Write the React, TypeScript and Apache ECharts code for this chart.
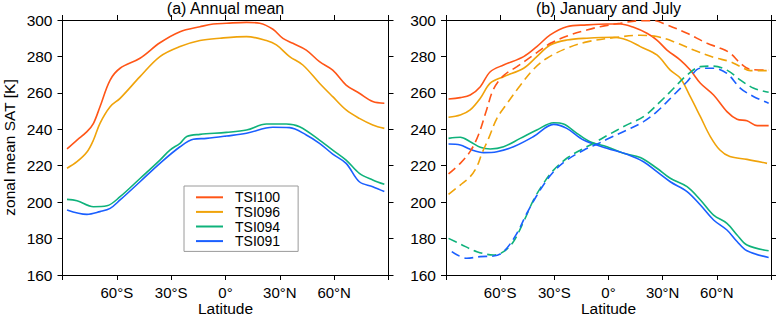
import React, { useEffect, useRef } from "react";
import * as echarts from "echarts";

// ---------- tick labels ----------
const LAT_MIN = -90;
const LAT_MAX = 90;
const LAT_STEP = 30;
const SAT_MIN = 160;
const SAT_MAX = 300;
const SAT_STEP = 20;

const SERIES_NAMES = ["TSI100", "TSI096", "TSI094", "TSI091"];
const COLORS = ["#ff5517", "#f0a30a", "#0fb27b", "#1a5fff"];

// ---------- (a) Annual mean ----------
const annLat100 = [-87.5, -82, -76.5, -72.9, -69.3, -63.7, -58.2, -47.2, -36.2, -25.1, -14.1, -6.8, 0.5, 11.6, 18.9, 26.2, 31.7, 37.2, 44.6, 51.9, 59.2, 66.6, 73.9, 81.3, 87.7];
const annVal100 = [229.2, 234.1, 238.7, 243.3, 252.4, 267, 273.5, 279, 287.5, 293.6, 296.3, 297.8, 298.2, 298.7, 298.2, 294.9, 289.9, 287.2, 283.5, 277.1, 272.5, 264.3, 259.8, 255.2, 254.3];

const annLat096 = [-87.5, -82, -76.5, -72.9, -69.3, -63.7, -58.2, -47.2, -36.2, -25.1, -14.1, -3.1, 11.6, 22.6, 28.1, 35.4, 42.7, 51.9, 59.2, 66.6, 73.9, 81.3, 87.7];
const annVal096 = [218.6, 222.2, 227.5, 234.1, 243.3, 252.4, 257, 268.9, 279.9, 285.4, 288.7, 290, 290.9, 288.7, 286.3, 279.9, 275.3, 265.3, 257.9, 250.6, 246, 242.4, 240.5];

const annLat094 = [-87.5, -82, -72.9, -65.5, -58.2, -47.2, -36.2, -30.7, -25.1, -21.4, -14.1, 0.5, 11.6, 22.6, 33.6, 40.9, 51.9, 59.2, 66.6, 73.9, 81.3, 87.7];
const annVal094 = [201.5, 200.8, 197.5, 198, 203, 213, 223.1, 228.6, 232.3, 236, 237.2, 238.3, 239.6, 242.9, 242.9, 241.4, 234.1, 228.6, 223.1, 215.8, 212.2, 209.8];

const annLat091 = [-87.5, -76.5, -69.3, -63.7, -58.2, -47.2, -36.2, -25.1, -17.8, -10.5, 0.5, 11.6, 26.2, 35.4, 44.6, 51.9, 59.2, 66.6, 73.9, 81.3, 87.7];
const annVal091 = [195.7, 193.3, 194.8, 196.6, 201.2, 211.2, 221.3, 230.4, 234.5, 235, 236.3, 237.8, 241.1, 240.9, 236.9, 232.3, 226.4, 221.3, 211.2, 208.5, 205.8];

// ---------- (b) January (solid) ----------
const janLat100 = [-88.6, -82.1, -76.6, -71, -65.5, -58.1, -47, -39.7, -32.3, -23.1, -12, -0.9, 6.5, 13.9, 21.3, 26.8, 32.4, 39.8, 45.3, 50.9, 58.2, 65.6, 71.2, 76.7, 82.3, 88.7];
const janVal100 = [256.6, 257.4, 258.8, 263.4, 271.6, 275.3, 279.9, 285.4, 291.8, 296.3, 297.3, 297.8, 297.8, 296, 292.7, 289, 283.5, 278, 272.5, 265.3, 258.8, 249.7, 245.5, 244.7, 242, 242];

const janLat096 = [-88.6, -82.1, -76.6, -71, -65.5, -58.1, -47, -39.7, -32.3, -23.1, -12, 2.8, 10.2, 17.6, 26.8, 34.2, 39.8, 45.3, 50.9, 56.4, 61.7, 67.2, 76.7, 87.8];
const janVal096 = [246.6, 247.8, 250.6, 257, 265.3, 268.9, 273.5, 279.9, 286.3, 289, 290, 290.5, 289, 285.4, 280.8, 272.5, 268, 257.9, 246.9, 236, 228.6, 225, 223.5, 221.3];

const janLat094 = [-88.6, -82.1, -76.6, -71, -65.5, -58.1, -48.9, -39.7, -30.4, -24.9, -17.5, -10.2, -0.9, 8.3, 17.6, 26.8, 34.2, 43.5, 50.9, 58.2, 65.6, 71.2, 76.7, 88.7];
const janVal094 = [235, 235.6, 233.2, 230.1, 229.2, 230.4, 235, 239.6, 243.6, 242.9, 237.8, 233.2, 230.4, 226.8, 224.5, 218.6, 213.1, 208.5, 201.2, 192.9, 188.4, 182, 176.5, 173.3];

const janLat091 = [-88.6, -82.1, -76.6, -69.2, -61.8, -52.6, -41.5, -30.4, -23.1, -13.8, -0.9, 10.2, 19.4, 26.8, 34.2, 43.5, 50.9, 58.2, 65.6, 71.2, 76.7, 88.7];
const janVal091 = [231.9, 231.4, 229, 227.2, 227.7, 230.4, 236, 242.7, 240.5, 234.1, 229.6, 226.3, 222.2, 216.7, 211.2, 205.8, 198.4, 190.2, 184.7, 178.4, 173.3, 169.6];

// ---------- (b) July (dashed) ----------
const julLat100 = [-88.6, -82.1, -76.5, -72, -67.4, -63.7, -58.1, -50.7, -41.5, -32.2, -22, -12, -4.7, 6.5, 17.6, 25, 32.4, 43.5, 54.6, 62, 67.5, 73.1, 78.6, 88.7];
const julVal100 = [215.5, 221.3, 228, 237, 251, 262, 269.5, 274.4, 280.8, 287.2, 291.5, 294.5, 296.3, 298.2, 299.6, 299.6, 297.3, 292.7, 287.2, 284.5, 281.7, 276.2, 272.9, 272.5];

const julLat096 = [-88.6, -82.1, -76.6, -72.9, -70.1, -66.4, -61.8, -56.3, -48.9, -41.5, -34.1, -23.1, -12, 2.8, 17.6, 26.8, 36.1, 47.2, 58.2, 67.5, 73.1, 78.6, 88.7];
const julVal096 = [204.3, 209.4, 214, 219.5, 226.8, 235, 246, 254, 264, 273, 279, 284.5, 288, 290.3, 291.6, 290.9, 288.1, 283.5, 279.5, 277.1, 274.4, 272.2, 272.2];

const julLat094 = [-88.6, -82.1, -72.9, -63.7, -58.1, -52.6, -47, -41.5, -36, -30.4, -23.1, -15.7, -8, -0.9, 10.2, 19.4, 28.7, 36.1, 43.5, 50.9, 58.2, 65.6, 73.1, 80.5, 88.7];
const julVal094 = [180.1, 177, 172.8, 171, 172.8, 178.4, 189.3, 201.2, 210.3, 217.6, 224.1, 228.5, 232.5, 236.5, 242.4, 246.9, 255.2, 262.5, 269.8, 274.4, 274.7, 272.5, 267, 262.5, 260.3];

const julLat091 = [-86.8, -78.5, -71, -63.7, -58.1, -50.7, -45.2, -37.8, -30.4, -23.1, -13.8, -5, -0.9, 10.2, 19.4, 26.8, 36.1, 43.5, 50.9, 58.2, 65.6, 73.1, 80.5, 88.7];
const julVal091 = [172.8, 169.2, 170.1, 170.4, 172.8, 182.9, 193.9, 206.7, 216.7, 223.1, 228.5, 232.5, 234.5, 239.6, 244.2, 249.7, 258.8, 266.1, 273.5, 273.5, 270.7, 262.5, 257.9, 254.3];

const FONT = "Liberation Sans, Arial, Helvetica, sans-serif";

function pairs(lats: number[], vals: number[]) {
  return lats.map((x, i) => [x, vals[i]]);
}

function latLabel(v: number) {
  if (Math.abs(v) >= 90) return "";
  if (v === 0) return "0°";
  return Math.abs(v) + "°" + (v < 0 ? "S" : "N");
}

function xAxis(gridIndex: number, position: string, showLabel: boolean) {
  return {
    type: "value",
    gridIndex,
    position,
    min: LAT_MIN,
    max: LAT_MAX,
    interval: LAT_STEP,
    axisLine: { show: true, onZero: false, lineStyle: { color: "#000", width: 1 } },
    axisTick: { show: true, inside: false, length: 5, lineStyle: { color: "#000", width: 1 } },
    axisLabel: {
      show: showLabel,
      formatter: latLabel,
      margin: 10,
      color: "#000",
      fontSize: 15,
      fontFamily: FONT,
    },
    splitLine: { show: false },
  };
}

function yAxis(gridIndex: number, position: string, showLabel: boolean) {
  return {
    type: "value",
    gridIndex,
    position,
    min: SAT_MIN,
    max: SAT_MAX,
    interval: SAT_STEP,
    axisLine: { show: true, onZero: false, lineStyle: { color: "#000", width: 1 } },
    axisTick: { show: true, inside: false, length: 5, lineStyle: { color: "#000", width: 1 } },
    axisLabel: {
      show: showLabel,
      margin: 10,
      color: "#000",
      fontSize: 15.5,
      fontFamily: FONT,
    },
    splitLine: { show: false },
  };
}

function line(name: string, color: string, data: number[][], axis: number, dashed: boolean) {
  return {
    type: "line",
    name,
    xAxisIndex: axis,
    yAxisIndex: axis,
    data,
    smooth: 0.35,
    showSymbol: false,
    symbol: "none",
    color,
    itemStyle: { color },
    lineStyle: { color, width: 1.6, type: dashed ? [9, 5] : "solid" },
    z: 3,
  };
}

export default function App() {
  const ref = useRef<HTMLDivElement>(null);

  useEffect(() => {
    if (!ref.current) return;
    const chart = echarts.init(ref.current, undefined, { renderer: "svg" });

    const annual = [
      pairs(annLat100, annVal100),
      pairs(annLat096, annVal096),
      pairs(annLat094, annVal094),
      pairs(annLat091, annVal091),
    ];
    const jan = [
      pairs(janLat100, janVal100),
      pairs(janLat096, janVal096),
      pairs(janLat094, janVal094),
      pairs(janLat091, janVal091),
    ];
    const jul = [
      pairs(julLat100, julVal100),
      pairs(julLat096, julVal096),
      pairs(julLat094, julVal094),
      pairs(julLat091, julVal091),
    ];

    const series: any[] = [];
    SERIES_NAMES.forEach((n, i) => series.push(line(n, COLORS[i], annual[i], 0, false)));
    SERIES_NAMES.forEach((n, i) => series.push(line(n + " January", COLORS[i], jan[i], 2, false)));
    SERIES_NAMES.forEach((n, i) => series.push(line(n + " July", COLORS[i], jul[i], 2, true)));

    const textStyle = (text: string, size: number) => ({
      text,
      fill: "#000",
      fontSize: size,
      fontFamily: FONT,
      align: "center",
      verticalAlign: "middle",
      textAlign: "center",
      textVerticalAlign: "middle",
    });

    chart.setOption({
      animation: false,
      backgroundColor: "#fff",
      grid: [
        { left: 62.5, top: 20, width: 326, height: 255, containLabel: false },
        { left: 446, top: 20, width: 325, height: 255, containLabel: false },
      ],
      xAxis: [
        xAxis(0, "bottom", true),
        xAxis(0, "top", false),
        xAxis(1, "bottom", true),
        xAxis(1, "top", false),
      ],
      yAxis: [
        yAxis(0, "left", true),
        yAxis(0, "right", false),
        yAxis(1, "left", true),
        yAxis(1, "right", false),
      ],
      legend: {
        data: SERIES_NAMES,
        orient: "vertical",
        left: 184,
        top: 186,
        padding: [4, 18, 3, 12],
        itemGap: 0,
        itemWidth: 27,
        itemHeight: 2,
        icon: "rect",
        borderColor: "#9a9a9a",
        borderWidth: 1,
        backgroundColor: "#fff",
        selectedMode: false,
        textStyle: {
          color: "#000",
          fontSize: 14,
          fontFamily: FONT,
          lineHeight: 14.6,
          padding: [0, 0, 0, 7],
        },
      },
      graphic: [
        { type: "text", x: 225.5, y: 8, style: textStyle("(a) Annual mean", 16) },
        { type: "text", x: 608.5, y: 8, style: textStyle("(b) January and July", 16) },
        { type: "text", x: 225.5, y: 308.5, style: textStyle("Latitude", 15.5) },
        { type: "text", x: 608.5, y: 308.5, style: textStyle("Latitude", 15.5) },
        {
          type: "text",
          x: 9,
          y: 147.5,
          rotation: Math.PI / 2,
          style: textStyle("zonal mean SAT [K]", 15.5),
        },
      ],
      series,
    });

    return () => chart.dispose();
  }, []);

  return (
    <div
      ref={ref}
      style={{ position: "fixed", left: 0, top: 0, width: 779, height: 316, background: "#fff" }}
    />
  );
}
